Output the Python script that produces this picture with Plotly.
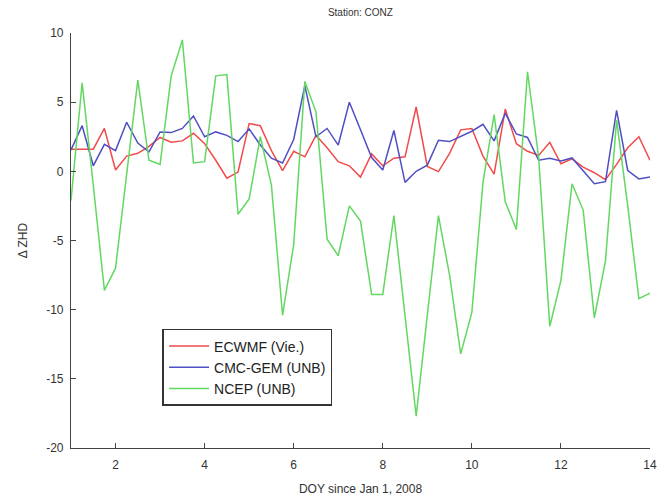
import plotly.graph_objects as go

# Sampling grid: 4 samples per day, DOY 1 .. 14
doy = [1 + 0.25 * i for i in range(53)]

ecwmf = [1.6, 1.6, 1.6, 3.1, 0.1, 1.1, 1.3, 1.8, 2.45, 2.1, 2.2, 2.75, 2.0,
         0.8, -0.5, -0.05, 3.45, 3.3, 1.5, 0.05, 1.45, 1.05, 2.6, 1.7, 0.7,
         0.4, -0.42, 1.26, 0.4, 0.95, 1.05, 4.65, 0.35, -0.02, 1.3, 3.0, 3.1,
         1.1, -0.2, 4.5, 2.0, 1.45, 1.15, 2.1, 0.55, 0.9, 0.3, -0.1, -0.6,
         0.5, 1.7, 2.5, 0.8]

cmc_gem = [1.55, 3.3, 0.4, 1.95, 1.5, 3.55, 2.05, 1.4, 2.85, 2.8, 3.1, 4.0,
           2.5, 2.85, 2.6, 2.15, 3.07, 1.9, 0.95, 0.6, 2.3, 6.2, 2.5, 3.1,
           1.9, 5.0, 3.0, 1.0, 0.1, 2.95, -0.8, 0.0, 0.45, 2.25, 2.15, 2.55,
           2.9, 3.4, 2.2, 4.2, 2.7, 2.45, 0.8, 0.95, 0.75, 0.97, 0.05, -0.89,
           -0.75, 4.4, 0.06, -0.55, -0.4]

ncep = [-2.1, 6.4, -1.0, -8.6, -7.0, -0.3, 6.6, 0.8, 0.5, 6.9, 9.5, 0.6, 0.7,
        6.9, 7.0, -3.1, -2.0, 2.5, -1.0, -10.4, -5.3, 6.5, 4.3, -4.9, -6.1,
        -2.5, -3.6, -8.9, -8.9, -3.2, -10.3, -17.7, -10.4, -3.2, -7.5, -13.2,
        -10.2, -0.8, 4.1, -2.2, -4.2, 7.2, 1.0, -11.2, -7.9, -0.9, -2.8,
        -10.6, -6.5, 3.7, -2.5, -9.2, -8.8]

series_names = ["ECWMF (Vie.)", "CMC-GEM (UNB)", "NCEP (UNB)"]
series_colors = ["#f24b4b", "#4f4fc4", "#62d862"]

x_tickvals = [2, 4, 6, 8, 10, 12, 14]
x_ticktext = ["2", "4", "6", "8", "10", "12", "14"]
y_tickvals = [10, 5, 0, -5, -10, -15, -20]
y_ticktext = ["10", "5", "0", "-5", "-10", "-15", "-20"]

FONT = "Liberation Sans, Arial"

fig = go.Figure()
for name, vals, col in zip(series_names, [ecwmf, cmc_gem, ncep], series_colors):
    fig.add_trace(go.Scatter(x=doy, y=vals, mode="lines", name=name,
                             line=dict(color=col, width=1.5)))

axis_common = dict(showgrid=False, zeroline=False, showline=True,
                   linecolor="#444", linewidth=1.2, ticks="inside",
                   ticklen=5, tickcolor="#444", mirror=False, automargin=False,
                   tickfont=dict(family=FONT, size=12, color="#333"))

fig.update_layout(
    width=665, height=502,
    paper_bgcolor="white", plot_bgcolor="white",
    margin=dict(l=71, r=15, t=33, b=54),
    title=dict(text="Station: CONZ", x=0.542, xanchor="center", y=0.976,
               yanchor="middle",
               font=dict(family=FONT, size=10, color="#333")),
    xaxis=dict(range=[1, 14], tickvals=x_tickvals, ticktext=x_ticktext,
               ticklabelstandoff=5,
               title=dict(text="DOY since Jan 1, 2008", standoff=14,
                          font=dict(family=FONT, size=12, color="#333")),
               **axis_common),
    yaxis=dict(range=[-20, 10], tickvals=y_tickvals, ticktext=y_ticktext,
               ticklabelstandoff=4,
               title=dict(text="Δ ZHD", standoff=15,
                          font=dict(family=FONT, size=12, color="#333")),
               **axis_common),
    legend=dict(x=0.158, y=0.287, xanchor="left", yanchor="top",
                bgcolor="white", bordercolor="#333", borderwidth=1.6,
                itemwidth=40, tracegroupgap=0,
                font=dict(family=FONT, size=14, color="#222")),
    showlegend=True,
)

fig.write_html("out.html", config={"displayModeBar": False},
               post_script="document.body.style.margin='0';")
